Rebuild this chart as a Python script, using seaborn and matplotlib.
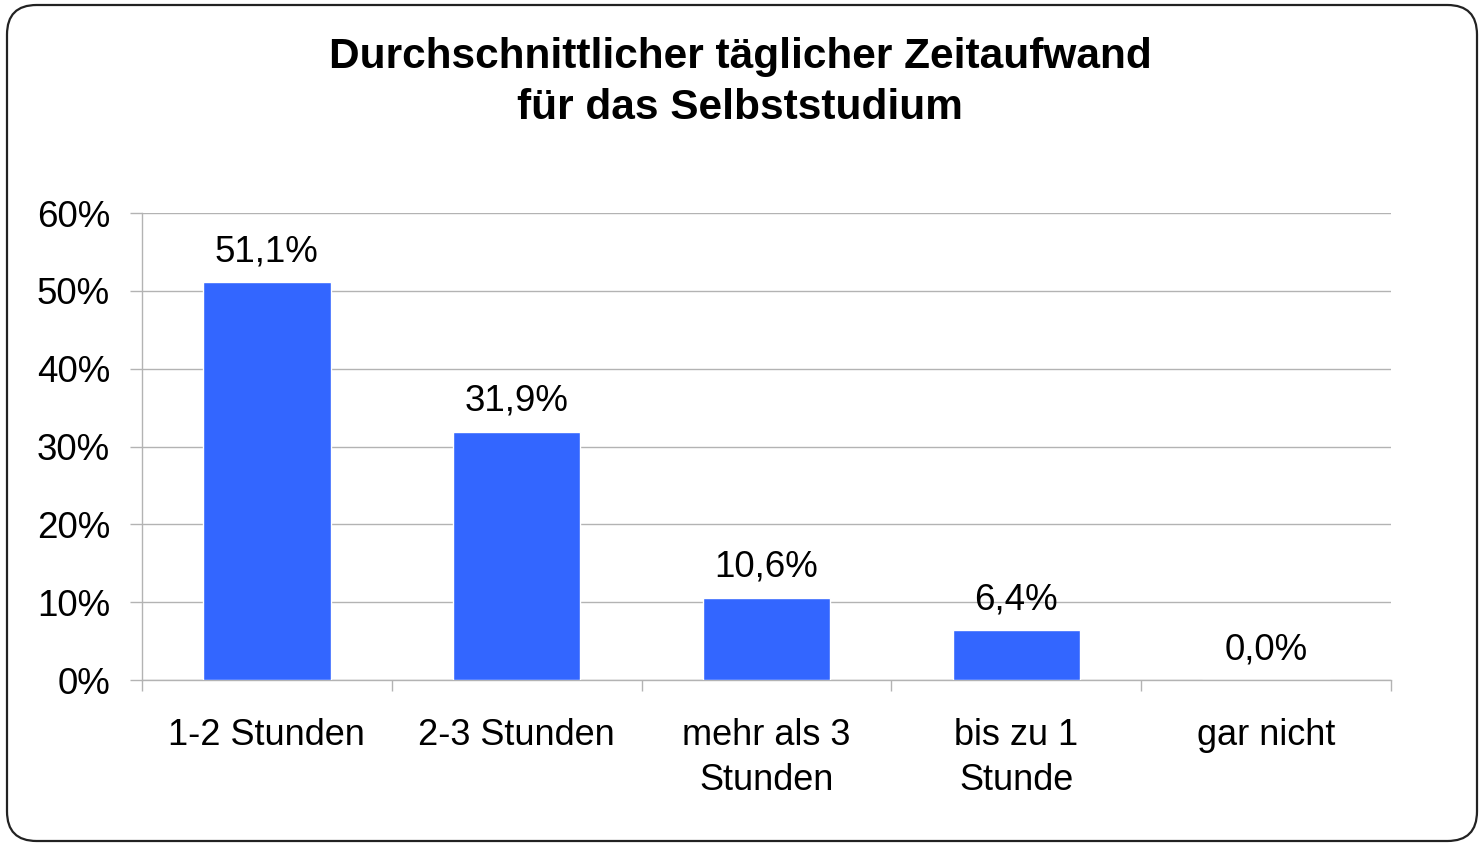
import pandas as pd
import matplotlib.pyplot as plt
import seaborn as sns
from matplotlib.patches import FancyBboxPatch
from matplotlib.ticker import FuncFormatter, FixedLocator

kategorien = ["1-2 Stunden", "2-3 Stunden", "mehr als 3\nStunden", "bis zu 1\nStunde", "gar nicht"]
anteile = [51.1, 31.9, 10.6, 6.4, 0.0]

df = pd.DataFrame({"Kategorie": kategorien, "Anteil": anteile})

sns.set_style("white")
plt.rcParams['font.family'] = ['Liberation Sans', 'DejaVu Sans']
plt.rcParams['text.color'] = 'black'
plt.rcParams['xtick.color'] = 'black'
plt.rcParams['ytick.color'] = 'black'

fig = plt.figure(figsize=(14.8, 8.44), dpi=100)
ax = fig.add_axes([0.0959, 0.1943, 0.8439, 0.5533])

sns.barplot(data=df, x="Kategorie", y="Anteil", color="#3366FF", saturation=1,
            width=0.51, ax=ax, zorder=3)

# Werte über den Balken
for i, v in enumerate(anteile):
    ax.annotate(f"{v:.1f}".replace(".", ",") + "%", xy=(i, v), xytext=(0, 15),
                textcoords="offset points", ha="center", va="baseline",
                fontsize=26.5, color="black")

ax.set_ylim(0, 60)
ax.set_xlim(-0.5, len(kategorien) - 0.5)
ax.set_yticks(range(0, 61, 10))
ax.yaxis.set_major_formatter(FuncFormatter(lambda x, p: f"{x:.0f}%"))
ax.yaxis.grid(True, color="#b3b3b3", linewidth=1, zorder=0)
ax.set_axisbelow(True)

ax.xaxis.set_minor_locator(FixedLocator([i - 0.5 for i in range(len(kategorien) + 1)]))
ax.tick_params(axis="x", which="major", bottom=True, length=0, pad=27,
               labelsize=26, labelcolor="black")
ax.tick_params(axis="x", which="minor", bottom=True, length=8, width=1,
               color="#b3b3b3", direction="out")
ax.tick_params(axis="y", which="major", left=True, length=9, width=1, color="#b3b3b3",
               direction="out", pad=14, labelsize=26.5, labelcolor="black")
ax.set_xlabel("")
ax.set_ylabel("")

for s in ["top", "right"]:
    ax.spines[s].set_visible(False)
for s in ["left", "bottom"]:
    ax.spines[s].set_color("#b3b3b3")
    ax.spines[s].set_linewidth(1)

for lbl in ax.get_xticklabels():
    lbl.set_linespacing(1.37)

fig.text(0.5, 0.902, "Durchschnittlicher täglicher Zeitaufwand\nfür das Selbststudium",
         ha="center", va="center", fontsize=30.5, fontweight="bold", linespacing=1.36,
         color="black")

# abgerundeter Rahmen
rahmen = FancyBboxPatch((7 / 1480, 3 / 844), 1470 / 1480, 836 / 844,
                        boxstyle="round,pad=0,rounding_size=0.02",
                        mutation_aspect=1480 / 844, transform=fig.transFigure,
                        facecolor="none", edgecolor="#222222", linewidth=1.6)
fig.patches.append(rahmen)

fig.savefig("out.png", dpi=100)
